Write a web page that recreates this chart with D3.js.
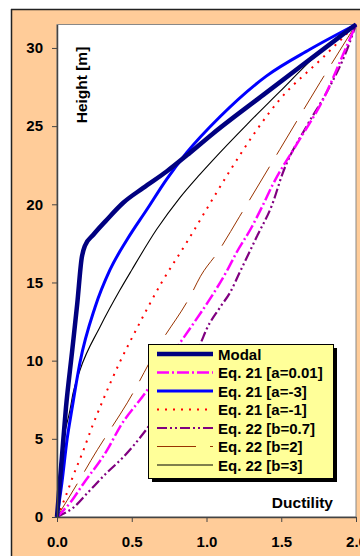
<!DOCTYPE html>
<html><head><meta charset="utf-8">
<script src="https://cdn.jsdelivr.net/npm/d3@7/dist/d3.min.js"></script>
<style>body{margin:0;background:#fff}svg{display:block}text{font-family:"Liberation Sans",Arial,sans-serif;font-weight:bold}</style>
</head><body><svg id="c" width="360" height="556"></svg>
<script>
const xTicks = [0, 0.5, 1.0, 1.5, 2.0];
const yTicks = [0, 5, 10, 15, 20, 25, 30];
const seriesNames = ["Modal","Eq. 21 [a=0.01]","Eq. 21 [a=-3]","Eq. 21 [a=-1]","Eq. 22 [b=0.7]","Eq. 22 [b=2]","Eq. 22 [b=3]"];
const modal = [[0,0],[0.03,3.5],[0.06,7],[0.1,10.5],[0.135,13.6],[0.165,16.55],[0.187,17.35],[0.243,18.05],[0.332,19.0],[0.443,20.1],[0.577,21.05],[0.733,22.1],[0.89,23.3],[1.04,24.5],[1.38,27.0],[1.71,29.4],[2,31.5]];
const eq21a001 = [[0,0],[0.087,0.9],[0.174,2.1],[0.33,4.2],[0.43,5.9],[0.58,7.8],[0.82,11.1],[0.9,12.2],[1.02,13.9],[1.14,15.8],[1.2,16.9],[1.3,18.5],[1.38,20.0],[1.44,21.2],[1.62,24.1],[1.78,26.7],[1.91,29.5],[2,31.5]];
const eq21am3 = [[0,0],[0.033,2.2],[0.068,5],[0.1,6.9],[0.154,9.9],[0.254,13.4],[0.354,15.8],[0.466,17.7],[0.6,19.65],[0.733,21.6],[0.867,23.3],[1.09,25.6],[1.4,28.2],[1.69,29.9],[2,31.5]];
const eq21am1 = [[0,0],[0.053,1.2],[0.107,2.6],[0.174,4.2],[0.24,5.9],[0.3,7.3],[0.42,9.9],[0.52,11.8],[0.7,15.0],[0.87,17.6],[1.02,20.0],[1.16,22.2],[1.49,26.7],[1.78,29.4],[2,31.5]];
const eq22b07 = [[0,0],[0.02,0.1],[0.11,0.6],[0.21,1.6],[0.33,2.8],[0.44,3.8],[0.59,5.5],[0.78,8.2],[0.96,11.1],[1.0,12.0],[1.09,13.4],[1.16,14.4],[1.22,15.6],[1.34,18.0],[1.44,20.0],[1.51,22.0],[1.67,25.0],[1.8,27.1],[1.94,29.9],[2,31.5]];
const eq22b2 = [[0,0],[0.14,2.2],[0.27,4.3],[0.33,5.2],[0.47,7.3],[0.69,11.1],[0.89,14.1],[0.96,15.4],[1.08,17.0],[1.22,19.2],[1.49,23.5],[1.76,27.8],[2,31.5]];
const eq22b3 = [[0,0],[0.005,1],[0.02,3.2],[0.045,5],[0.087,6.85],[0.107,7.9],[0.154,9.4],[0.29,12.2],[0.42,14.5],[0.5,15.8],[0.667,18.4],[0.82,20.4],[0.945,21.8],[1.04,22.8],[1.27,25.1],[1.49,27.2],[1.71,29.3],[2,31.5]];

const svg = d3.select("#c");
// outer frame
svg.append("rect").attr("x",11).attr("y",9).attr("width",360).attr("height",560).attr("fill","#FFCC99");
svg.append("line").attr("x1",11).attr("x2",360).attr("y1",9.5).attr("y2",9.5).attr("stroke","#222").attr("stroke-width",1.5);
svg.append("line").attr("x1",11.5).attr("x2",11.5).attr("y1",9).attr("y2",556).attr("stroke","#222").attr("stroke-width",1.5);

const L=57, R=356, T=24.5, B=517;
const x = d3.scaleLinear().domain([0,2]).range([L,R]);
const y = d3.scaleLinear().domain([0,31.5]).range([B,T]);

svg.append("rect").attr("x",L).attr("y",T).attr("width",R-L).attr("height",B-T).attr("fill","#fff").attr("stroke","#888").attr("stroke-width",1);

const styles = [
  {data:modal, color:"#000080", w:4.5, dash:null},
  {data:eq21a001, color:"#FF00FF", w:2.5, dash:"12,3,2,3"},
  {data:eq21am3, color:"#0000FF", w:3, dash:null},
  {data:eq21am1, color:"#FF0000", w:2, dash:"2,6"},
  {data:eq22b07, color:"#800080", w:2.2, dash:"10,3,2,3,2,3"},
  {data:eq22b2, color:"#993300", w:1, dash:"39,14"},
  {data:eq22b3, color:"#000000", w:1.1, dash:null}
];
const line = d3.line().x(d=>x(d[0])).y(d=>y(d[1])).curve(d3.curveMonotoneX);
const order = [6,5,4,3,1,2,0];
order.forEach(i=>{
  const s=styles[i];
  svg.append("path").datum(s.data).attr("d",line).attr("fill","none")
    .attr("stroke",s.color).attr("stroke-width",s.w)
    .attr("stroke-dasharray",s.dash).attr("stroke-linejoin","round");
});

// axes
const ax = svg.append("g").attr("transform",`translate(0,${B})`)
  .call(d3.axisBottom(x).tickValues(xTicks).tickFormat(d3.format(".1f")).tickSize(5).tickSizeOuter(0).tickPadding(14));
const ay = svg.append("g").attr("transform",`translate(${L},0)`)
  .call(d3.axisLeft(y).tickValues(yTicks).tickFormat(d3.format("d")).tickSize(5).tickSizeOuter(0).tickPadding(9));
[ax,ay].forEach(g=>{
  g.selectAll("path").attr("stroke","#444").attr("stroke-width",1.5);
  g.selectAll("line").attr("stroke","#444");
  g.selectAll("text").attr("font-size",15).attr("fill","#000").attr("font-family","'Liberation Sans',Arial,sans-serif").attr("font-weight","bold");
});

// axis titles
svg.append("text").attr("transform","translate(87,85) rotate(-90)").attr("text-anchor","middle").attr("font-size",15.5).text("Height [m]");
svg.append("text").attr("x",333).attr("y",508).attr("text-anchor","end").attr("font-size",15.5).text("Ductility");

// legend
const lx=148, ly=344, lw=185, lh=134;
svg.append("rect").attr("x",lx+4).attr("y",ly+4).attr("width",lw).attr("height",lh).attr("fill","#000");
svg.append("rect").attr("x",lx+0.5).attr("y",ly+0.5).attr("width",lw).attr("height",lh).attr("fill","#FFFF99").attr("stroke","#000");
seriesNames.forEach((n,i)=>{
  const s=styles[i], cy=354+i*18.5;
  svg.append("line").attr("x1",157).attr("x2",213).attr("y1",cy).attr("y2",cy)
    .attr("stroke",s.color).attr("stroke-width",s.w).attr("stroke-dasharray",s.dash);
  svg.append("text").attr("x",218).attr("y",cy+5.5).attr("font-size",15).text(n);
});
</script></body></html>
